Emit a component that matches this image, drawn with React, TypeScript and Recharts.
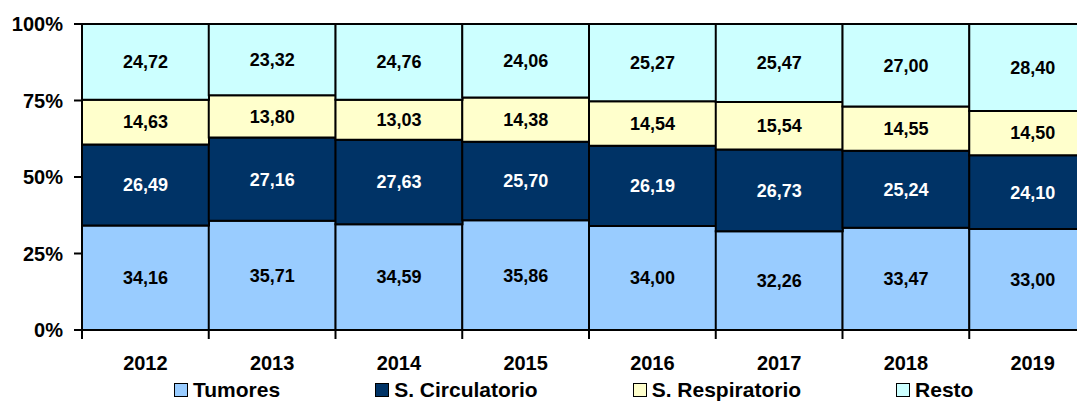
import { Bar, BarChart, LabelList, Legend, XAxis, YAxis } from "recharts";

const years = ["2012", "2013", "2014", "2015", "2016", "2017", "2018", "2019"];
const tumores = [34.16, 35.71, 34.59, 35.86, 34.0, 32.26, 33.47, 33.0];
const circulatorio = [26.49, 27.16, 27.63, 25.7, 26.19, 26.73, 25.24, 24.1];
const respiratorio = [14.63, 13.8, 13.03, 14.38, 14.54, 15.54, 14.55, 14.5];
const resto = [24.72, 23.32, 24.76, 24.06, 25.27, 25.47, 27.0, 28.4];
const yTicks = [0, 0.25, 0.5, 0.75, 1];

const series = [
  { key: "tumores", name: "Tumores", color: "#99ccff", text: "#000" },
  { key: "circulatorio", name: "S. Circulatorio", color: "#003366", text: "#fff" },
  { key: "respiratorio", name: "S. Respiratorio", color: "#ffffcc", text: "#000" },
  { key: "resto", name: "Resto", color: "#ccffff", text: "#000" },
];

const data = years.map((year, i) => ({
  year,
  tumores: tumores[i],
  circulatorio: circulatorio[i],
  respiratorio: respiratorio[i],
  resto: resto[i],
}));

const CHART_W = 1100;
const CHART_H = 403;
const Y_AXIS_W = 82;
const MARGIN_RIGHT = 4;
const BAND = (CHART_W - Y_AXIS_W - MARGIN_RIGHT) / years.length;
const FONT = "'Liberation Sans', Arial, sans-serif";

const fmt = (v: unknown) => Number(v).toFixed(2).replace(".", ",");

function YearTick(props: any) {
  const { x, y, payload, index } = props;
  return (
    <g>
      <line x1={x - BAND / 2} x2={x - BAND / 2} y1={y} y2={y + 9} stroke="#000" strokeWidth={2} />
      {index === years.length - 1 && (
        <line x1={x + BAND / 2} x2={x + BAND / 2} y1={y} y2={y + 9} stroke="#000" strokeWidth={2} />
      )}
      <text x={x} y={y + 26} dy="0.71em" textAnchor="middle" fontSize={20} fontWeight="bold" fill="#000" fontFamily={FONT}>
        {payload.value}
      </text>
    </g>
  );
}

function LegendContent() {
  return (
    <div style={{ display: "flex", paddingLeft: 174, paddingTop: 10, gap: 95, fontFamily: FONT, fontWeight: "bold", fontSize: 21, lineHeight: "24px", color: "#000" }}>
      {series.map((s) => (
        <div key={s.key} style={{ display: "flex", alignItems: "center", gap: 5 }}>
          <span style={{ width: 12, height: 12, background: s.color, border: "1.5px solid #000", display: "inline-block" }} />
          <span>{s.name}</span>
        </div>
      ))}
    </div>
  );
}

export default function App() {
  return (
    <div style={{ margin: "-8px 0 0 -8px", width: CHART_W, height: CHART_H, background: "#fff" }}>
      <BarChart
        width={CHART_W}
        height={CHART_H}
        data={data}
        stackOffset="expand"
        barCategoryGap={0}
        margin={{ top: 24, right: MARGIN_RIGHT, left: 0, bottom: 0 }}
      >
        <XAxis
          dataKey="year"
          height={38}
          tickLine={false}
          tickSize={0}
          tickMargin={0}
          axisLine={{ stroke: "#000", strokeWidth: 2 }}
          tick={<YearTick />}
          interval={0}
        />
        <YAxis
          width={Y_AXIS_W}
          domain={[0, 1]}
          ticks={yTicks}
          tickFormatter={(v: number) => `${Math.round(v * 100)}%`}
          tickSize={8}
          tickMargin={11}
          tickLine={{ stroke: "#000", strokeWidth: 2 }}
          axisLine={{ stroke: "#000", strokeWidth: 2 }}
          tick={{ fill: "#000", fontSize: 20, fontWeight: "bold", fontFamily: FONT }}
        />
        <Legend verticalAlign="bottom" height={35} wrapperStyle={{ left: 0, width: CHART_W }} content={<LegendContent />} />
        {series.map((s) => (
          <Bar key={s.key} dataKey={s.key} name={s.name} stackId="a" fill={s.color} stroke="#000" strokeWidth={2} isAnimationActive={false}>
            <LabelList
              dataKey={s.key}
              position="center"
              formatter={fmt}
              fill={s.text}
              fontSize={18}
              fontWeight="bold"
              fontFamily={FONT}
            />
          </Bar>
        ))}
      </BarChart>
    </div>
  );
}
